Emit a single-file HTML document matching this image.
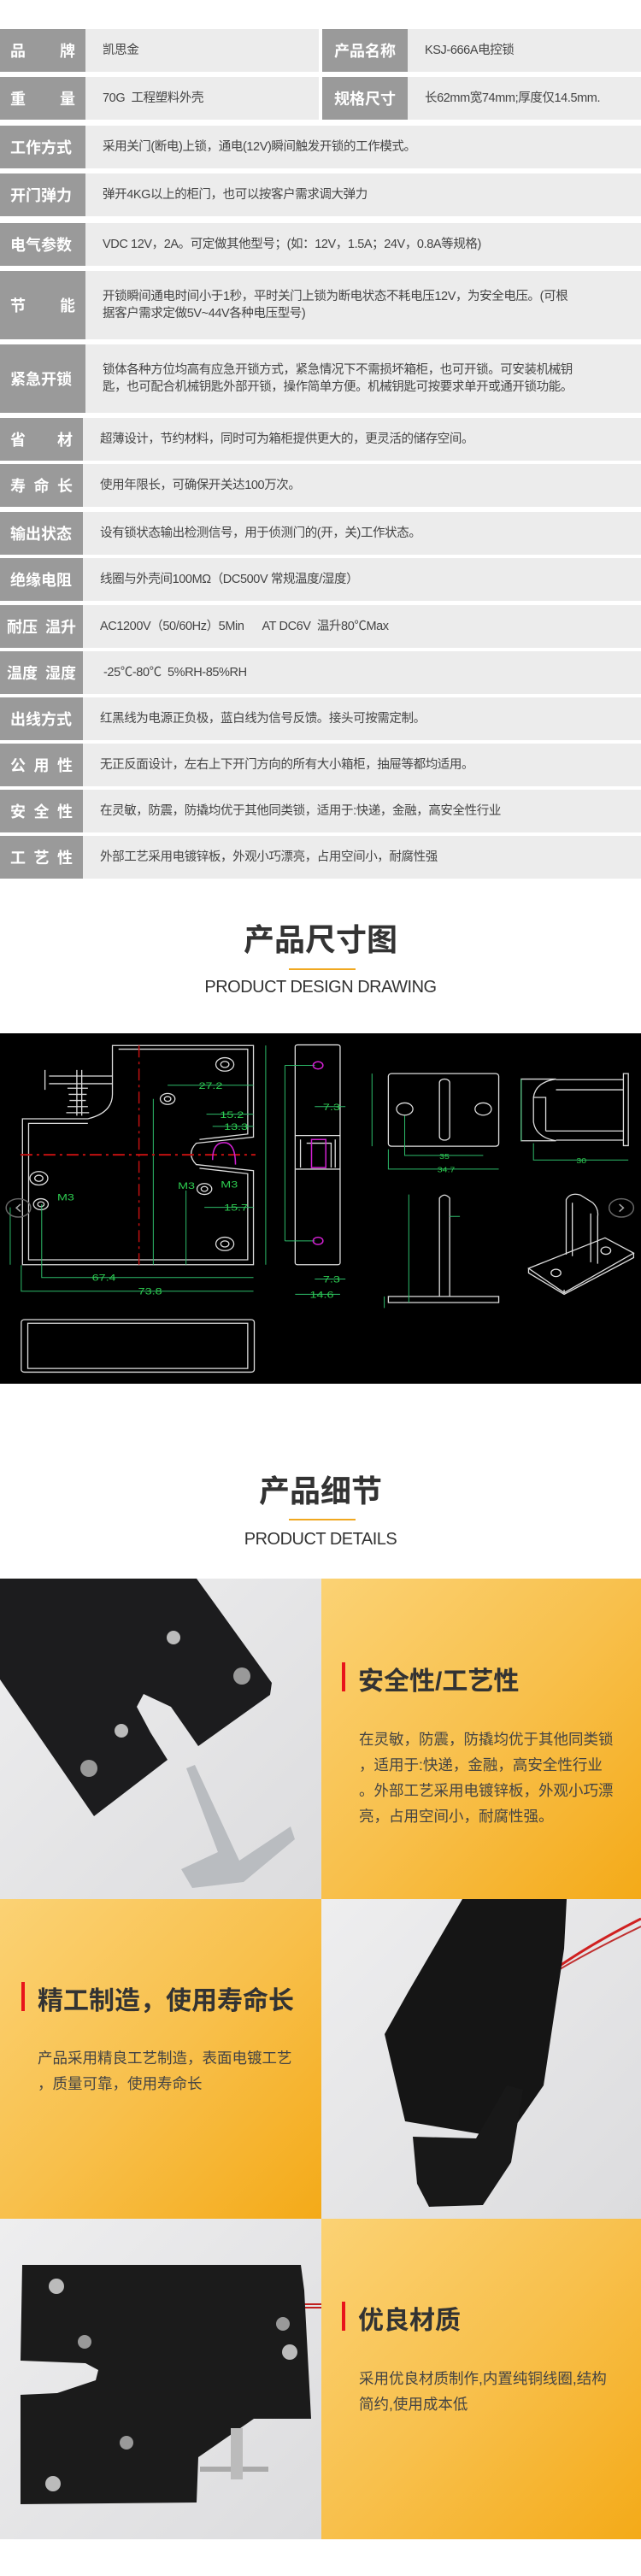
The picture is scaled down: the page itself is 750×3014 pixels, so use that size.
<!DOCTYPE html>
<html><head><meta charset="utf-8">
<style>
*{margin:0;padding:0;box-sizing:border-box}
body{width:750px;height:3014px;background:#fff;position:relative;overflow:hidden;font-family:"Liberation Sans","Noto Sans CJK SC",sans-serif}
.r{position:absolute;left:0;width:750px;background:#ececec}
.l{position:absolute;top:0;bottom:0;width:100px;background:#9a9a9a;color:#fff;font-weight:bold;font-size:18px;display:flex;align-items:center;justify-content:space-between;padding:0 12px}
.v{position:absolute;top:0;bottom:0;left:120px;right:6px;display:flex;align-items:center;color:#444;font-size:14.5px;letter-spacing:-0.4px;line-height:20px}
.h1{position:absolute;left:0;width:750px;text-align:center;font-weight:bold;font-size:36px;color:#333}
.ol{position:absolute;left:338px;width:78px;height:2px;background:#f0a820}
.en{position:absolute;left:0;width:750px;text-align:center;font-family:"Liberation Sans",sans-serif;font-size:20px;color:#333;letter-spacing:-0.5px}
.p{position:absolute;width:375px;height:375px;overflow:hidden}
.or{background:linear-gradient(135deg,#fbd274 0%,#f8c04c 50%,#f4aa18 100%)}
.gr{background:linear-gradient(135deg,#eeeeef,#dcdcde)}
.bar{position:absolute;width:4px;height:34px;background:#e8141b}
.ht{position:absolute;font-size:30px;font-weight:bold;color:#333;white-space:nowrap}
.bt{position:absolute;font-size:17.5px;color:#444;line-height:30px;white-space:nowrap}
</style></head><body>

<!-- table -->
<div class="r" style="top:34px;height:50px;width:373px"><div class="l"><span>品</span><span>牌</span></div><div class="v">凯思金</div></div>
<div class="r" style="top:34px;height:50px;left:377px;width:373px"><div class="l" style="justify-content:center">产品名称</div><div class="v">KSJ-666A电控锁</div></div>
<div class="r" style="top:90px;height:50px;width:373px"><div class="l"><span>重</span><span>量</span></div><div class="v">70G&nbsp; 工程塑料外壳</div></div>
<div class="r" style="top:90px;height:50px;left:377px;width:373px"><div class="l" style="justify-content:center">规格尺寸</div><div class="v" style="right:0">长62mm宽74mm;厚度仅14.5mm.</div></div>
<div class="r" style="top:147px;height:50px"><div class="l">工作方式</div><div class="v">采用关门(断电)上锁，通电(12V)瞬间触发开锁的工作模式。</div></div>
<div class="r" style="top:203px;height:50px"><div class="l">开门弹力</div><div class="v">弹开4KG以上的柜门，也可以按客户需求调大弹力</div></div>
<div class="r" style="top:261px;height:50px"><div class="l">电气参数</div><div class="v">VDC 12V，2A。可定做其他型号；(如：12V，1.5A；24V，0.8A等规格)</div></div>
<div class="r" style="top:317px;height:80px"><div class="l"><span>节</span><span>能</span></div><div class="v"><div>开锁瞬间通电时间小于1秒，平时关门上锁为断电状态不耗电压12V，为安全电压。(可根<br>据客户需求定做5V~44V各种电压型号)</div></div></div>
<div class="r" style="top:403px;height:80px"><div class="l">紧急开锁</div><div class="v"><div>锁体各种方位均高有应急开锁方式，紧急情况下不需损坏箱柜，也可开锁。可安装机械钥<br>匙，也可配合机械钥匙外部开锁，操作简单方便。机械钥匙可按要求单开或通开锁功能。</div></div></div>
<div class="r" style="top:489px;height:50px"><div class="l" style="width:97px"><span>省</span><span>材</span></div><div class="v" style="left:117px">超薄设计，节约材料，同时可为箱柜提供更大的，更灵活的储存空间。</div></div>
<div class="r" style="top:543px;height:50px"><div class="l" style="width:97px"><span>寿</span><span>命</span><span>长</span></div><div class="v" style="left:117px">使用年限长，可确保开关达100万次。</div></div>
<div class="r" style="top:599px;height:50px"><div class="l" style="width:97px">输出状态</div><div class="v" style="left:117px">设有锁状态输出检测信号，用于侦测门的(开，关)工作状态。</div></div>
<div class="r" style="top:653px;height:50px"><div class="l" style="width:97px">绝缘电阻</div><div class="v" style="left:117px">线圈与外壳间100MΩ（DC500V 常规温度/湿度）</div></div>
<div class="r" style="top:708px;height:50px"><div class="l" style="width:97px;padding:0 8px"><span>耐压</span><span>温升</span></div><div class="v" style="left:117px">AC1200V（50/60Hz）5Min&nbsp;&nbsp;&nbsp;&nbsp;&nbsp; AT DC6V&nbsp; 温升80℃Max</div></div>
<div class="r" style="top:762px;height:50px"><div class="l" style="width:97px;padding:0 8px"><span>温度</span><span>湿度</span></div><div class="v" style="left:121px">-25℃-80℃&nbsp; 5%RH-85%RH</div></div>
<div class="r" style="top:816px;height:50px"><div class="l" style="width:97px">出线方式</div><div class="v" style="left:117px">红黑线为电源正负极，蓝白线为信号反馈。接头可按需定制。</div></div>
<div class="r" style="top:870px;height:50px"><div class="l" style="width:97px"><span>公</span><span>用</span><span>性</span></div><div class="v" style="left:117px">无正反面设计，左右上下开门方向的所有大小箱柜，抽屉等都均适用。</div></div>
<div class="r" style="top:924px;height:50px"><div class="l" style="width:97px"><span>安</span><span>全</span><span>性</span></div><div class="v" style="left:117px">在灵敏，防震，防撬均优于其他同类锁，适用于:快递，金融，高安全性行业</div></div>
<div class="r" style="top:978px;height:50px"><div class="l" style="width:97px"><span>工</span><span>艺</span><span>性</span></div><div class="v" style="left:117px">外部工艺采用电镀锌板，外观小巧漂亮，占用空间小，耐腐性强</div></div>

<!-- drawing header -->
<div class="h1" style="top:1078px;line-height:44px">产品尺寸图</div>
<div class="ol" style="top:1133px"></div>
<div class="en" style="top:1144px">PRODUCT DESIGN DRAWING</div>

<svg style="position:absolute;left:0;top:1209px" width="750" height="410" viewBox="0 360 1568 1148" preserveAspectRatio="none">
<rect x="0" y="360" width="1568" height="1148" fill="#000"/>
<g fill="none" stroke="#ddd" stroke-width="1.3" vector-effect="non-scaling-stroke">
<path vector-effect="non-scaling-stroke" d="M275 400 H620 V700 L480 720 Q455 755 480 790 L620 810 V1118 H55 V640 H215 Q275 620 275 560 Z"/>
<path vector-effect="non-scaling-stroke" d="M290 412 H606 V690 L488 708 M488 802 L606 820 V1102 H70 V655 H215"/>
<circle vector-effect="non-scaling-stroke" cx="550" cy="462" r="22"/><circle vector-effect="non-scaling-stroke" cx="550" cy="462" r="10"/>
<circle vector-effect="non-scaling-stroke" cx="410" cy="575" r="18"/><circle vector-effect="non-scaling-stroke" cx="410" cy="575" r="8"/>
<circle vector-effect="non-scaling-stroke" cx="95" cy="835" r="22"/><circle vector-effect="non-scaling-stroke" cx="95" cy="835" r="10"/>
<circle vector-effect="non-scaling-stroke" cx="100" cy="920" r="18"/><circle vector-effect="non-scaling-stroke" cx="100" cy="920" r="8"/>
<circle vector-effect="non-scaling-stroke" cx="500" cy="870" r="18"/><circle vector-effect="non-scaling-stroke" cx="500" cy="870" r="8"/>
<circle vector-effect="non-scaling-stroke" cx="550" cy="1050" r="22"/><circle vector-effect="non-scaling-stroke" cx="550" cy="1050" r="10"/>
<path vector-effect="non-scaling-stroke" d="M120 500 H275 M120 525 H275 M110 480 V545 M188 480 V630 M200 480 V630 M165 540 H215 M168 560 H212 M170 580 H210 M165 600 H215 M162 620 H218"/>
<rect vector-effect="non-scaling-stroke" x="722" y="398" width="110" height="720" rx="6"/>
<path vector-effect="non-scaling-stroke" d="M722 695 H832 M722 805 H832 M735 708 V800 M820 708 V800 M750 720 H810 V800"/>
<rect vector-effect="non-scaling-stroke" x="950" y="492" width="270" height="238" rx="8"/>
<rect vector-effect="non-scaling-stroke" x="1075" y="510" width="25" height="200" rx="12"/>
<circle vector-effect="non-scaling-stroke" cx="990" cy="608" r="20"/><circle vector-effect="non-scaling-stroke" cx="1182" cy="608" r="20"/>
<path vector-effect="non-scaling-stroke" d="M1275 510 H1360 Q1310 520 1305 570 V650 Q1310 700 1360 712 H1275 Z M1360 512 H1525 M1360 545 H1525 M1335 680 H1525 M1360 710 H1525 M1305 570 H1335 V680"/>
<rect vector-effect="non-scaling-stroke" x="1525" y="492" width="12" height="236"/>
<path vector-effect="non-scaling-stroke" d="M950 1222 H1220 V1242 H950 Z M1075 1222 V900 Q1087 880 1100 900 V1222"/>
<path vector-effect="non-scaling-stroke" d="M1293 1130 L1480 1030 L1550 1080 L1380 1210 Z M1380 1210 V1200 M1293 1130 V1145 L1380 1215 L1550 1095 V1080 M1385 1085 V905 Q1395 880 1420 890 L1450 915 Q1465 935 1462 960 V1115 M1400 1090 V915 M1445 1110 V950"/>
<circle vector-effect="non-scaling-stroke" cx="1360" cy="1145" r="12"/><circle vector-effect="non-scaling-stroke" cx="1482" cy="1072" r="12"/>
<rect vector-effect="non-scaling-stroke" x="52" y="1298" width="570" height="172" rx="8"/>
<rect vector-effect="non-scaling-stroke" x="68" y="1310" width="538" height="148"/>
</g>
<g fill="none" stroke="#2dbb6a" stroke-width="1" vector-effect="non-scaling-stroke">
<path vector-effect="non-scaling-stroke" d="M410 530 H620 M375 575 V1118 M505 625 H620 M520 665 H620 M455 875 V1118 M500 930 H620 M650 400 V1118 M102 920 V1160 H620 M52 1120 V1205 H620 M25 930 V1118 M697 465 H770 M697 1040 H770 M697 465 V1040 M770 600 H845 M770 1165 H845 M722 1215 H832 M910 492 V730 M990 630 V760 H1182 M950 740 V805 H1220 M1275 510 V712 M1305 720 V775 H1537 M1000 888 V1242 M1100 960 H1125 M940 1222 V1260"/>
</g>
<line x1="50" y1="758" x2="625" y2="758" stroke="#c01010" stroke-width="2" stroke-dasharray="14,5,3,5" vector-effect="non-scaling-stroke"/>
<line x1="340" y1="400" x2="340" y2="1118" stroke="#c01010" stroke-width="1.5" stroke-dasharray="14,5,3,5" vector-effect="non-scaling-stroke"/>
<g fill="none" stroke="#d020d0" stroke-width="1.5">
<path vector-effect="non-scaling-stroke" d="M520 775 Q520 718 548 718 Q576 718 576 790"/>
<circle vector-effect="non-scaling-stroke" cx="778" cy="465" r="12"/><circle vector-effect="non-scaling-stroke" cx="778" cy="1040" r="12"/>
<rect vector-effect="non-scaling-stroke" x="762" y="708" width="35" height="92"/>
</g>
<g fill="#2dcc50" font-family="Liberation Sans,sans-serif" font-size="30">
<text x="486" y="542">27.2</text><text x="538" y="637">15.2</text><text x="548" y="677">13.3</text>
<text x="548" y="941">15.7</text><text x="225" y="1170">67.4</text><text x="338" y="1216">73.8</text>
<text x="790" y="612">7.3</text><text x="790" y="1176">7.3</text><text x="758" y="1226">14.6</text>
<text x="435" y="870">M3</text><text x="540" y="865">M3</text><text x="140" y="908">M3</text>
<text x="1075" y="772" font-size="22">35</text><text x="1070" y="815" font-size="22">34.7</text><text x="1410" y="785" font-size="22">30</text>
</g>
<circle cx="45" cy="932" r="30" fill="none" stroke="#666" stroke-width="1.5" vector-effect="non-scaling-stroke"/>
<circle cx="1520" cy="932" r="30" fill="none" stroke="#666" stroke-width="1.5" vector-effect="non-scaling-stroke"/>
<path d="M50 920 L40 932 L50 944 M1515 920 L1525 932 L1515 944" stroke="#aaa" fill="none" stroke-width="1.5" vector-effect="non-scaling-stroke"/>
</svg>

<!-- details header -->
<div class="h1" style="top:1723px;line-height:44px">产品细节</div>
<div class="ol" style="top:1777px"></div>
<div class="en" style="top:1790px">PRODUCT DETAILS</div>

<!-- panel 1 -->
<div class="p gr" style="left:0;top:1847px;width:376px">
<svg width="376" height="375">
<polygon points="0,0 230,0 318,122 316,136 232,196 200,150 168,135 160,150 176,180 196,212 110,278 0,118" fill="#1c1c1e"/>
<polygon points="218,222 228,218 280,330 340,290 345,305 285,355 225,362 212,340 255,320" fill="#b9bcc0"/>
<circle cx="203" cy="69" r="8" fill="#bbb"/><circle cx="283" cy="114" r="10" fill="#999"/><circle cx="142" cy="178" r="8" fill="#bbb"/><circle cx="104" cy="222" r="10" fill="#999"/>
</svg></div>
<div class="p or" style="left:376px;top:1847px;width:374px"></div>
<div class="bar" style="left:400px;top:1945px"></div>
<div class="ht" style="left:419px;top:1942px">安全性/工艺性</div>
<div class="bt" style="left:420px;top:2020px">在灵敏，防震，防撬均优于其他同类锁<br>，适用于:快递，金融，高安全性行业<br>。外部工艺采用电镀锌板，外观小巧漂<br>亮，占用空间小，耐腐性强。</div>

<!-- panel 2 -->
<div class="p or" style="left:0;top:2222px;width:376px"></div>
<div class="bar" style="left:25px;top:2319px"></div>
<div class="ht" style="left:44px;top:2316px">精工制造，使用寿命长</div>
<div class="bt" style="left:44px;top:2393px">产品采用精良工艺制造，表面电镀工艺<br>，质量可靠，使用寿命长</div>
<div class="p gr" style="left:376px;top:2222px;width:374px">
<svg width="374" height="375">
<path d="M279 78 Q320 50 374 23" stroke="#d02020" stroke-width="3" fill="none"/>
<path d="M279 82 Q320 58 374 32" stroke="#c03030" stroke-width="2" fill="none"/>
<polygon points="165,0 287,0 284,58 260,218 217,280 98,260 74,158 102,108" fill="#151515"/>
<polygon points="107,278 181,280 217,218 236,223 222,308 189,358 126,360 112,333" fill="#181818"/>
</svg></div>

<!-- panel 3 -->
<div class="p gr" style="left:0;top:2596px;width:376px">
<svg width="376" height="375">
<path d="M350 100 H376 M350 104 H376" stroke="#c02020" stroke-width="2"/>
<polygon points="26,54 352,54 356,84 364,234 297,234 232,279 230,332 24,334 24,206 67,204 112,189 115,177 100,169 24,166" fill="#1b1b1b"/>
<rect x="234" y="290" width="80" height="6" fill="#aaa"/><rect x="270" y="245" width="14" height="60" fill="#bbb"/>
<circle cx="66" cy="79" r="9" fill="#bbb"/><circle cx="99" cy="144" r="8" fill="#999"/><circle cx="331" cy="123" r="8" fill="#999"/><circle cx="339" cy="156" r="9" fill="#bbb"/><circle cx="148" cy="262" r="8" fill="#999"/><circle cx="62" cy="310" r="9" fill="#bbb"/>
</svg></div>
<div class="p or" style="left:376px;top:2596px;width:374px"></div>
<div class="bar" style="left:400px;top:2693px"></div>
<div class="ht" style="left:419px;top:2690px">优良材质</div>
<div class="bt" style="left:420px;top:2768px">采用优良材质制作,内置纯铜线圈,结构<br>简约,使用成本低</div>

</body></html>
